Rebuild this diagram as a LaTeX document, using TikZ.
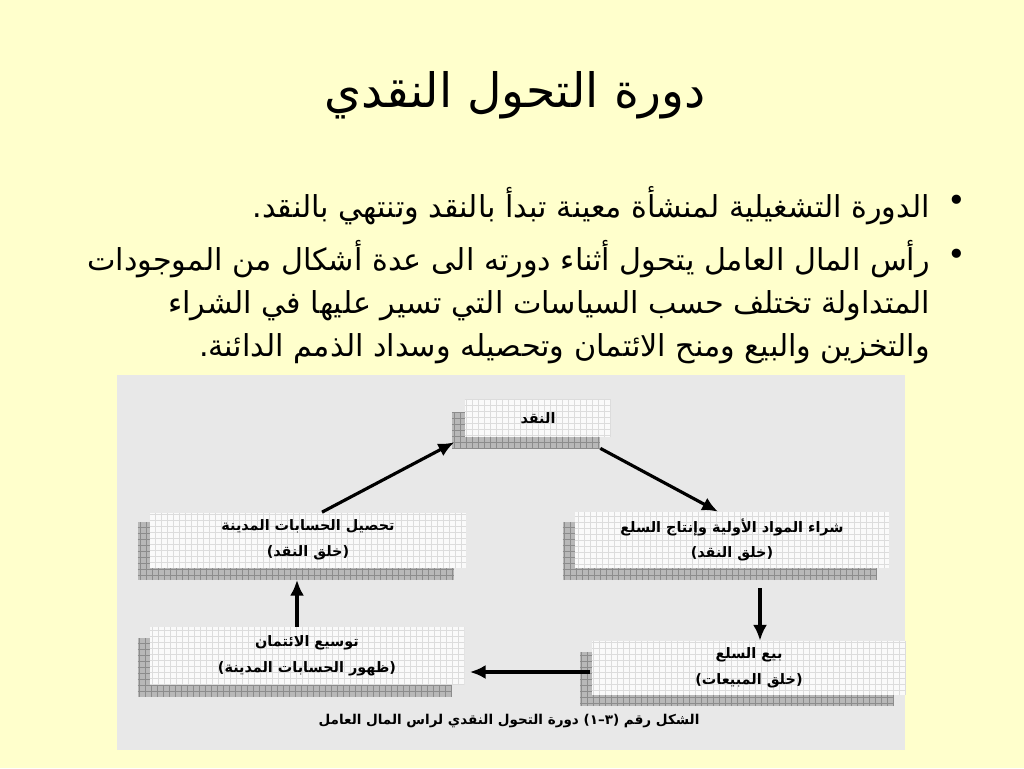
\documentclass[tikz,border=0pt]{standalone}
\usepackage{fontspec}
\setmainfont{DejaVu Sans}
\newfontfamily\arabicfont[Script=Arabic]{DejaVu Sans}
\TeXXeTstate=1
\usetikzlibrary{arrows.meta, positioning, calc}
\definecolor{slideyellow}{HTML}{FFFFCC}
\definecolor{panelgray}{HTML}{E8E8E8}
\definecolor{shadegray}{HTML}{B8B8B8}
\definecolor{shadeline}{HTML}{8C8C8C}
\definecolor{frontwhite}{HTML}{FAFAFA}
\definecolor{frontline}{HTML}{DCDCDC}
\newcommand{\artext}[1]{\beginR #1\endR}

\begin{document}
\begin{tikzpicture}[
    x=0.02cm, y=-0.02cm,
    gridfill/.style={path picture={\draw[#1, line width=0.3pt, step=0.12cm]
        (path picture bounding box.south west) grid (path picture bounding box.north east);}},
    shadebox/.style={fill=shadegray, gridfill=shadeline, inner sep=0pt},
    frontbox/.style={fill=frontwhite, gridfill=frontline, inner sep=0pt, align=center,
                     font=\arabicfont\bfseries\fontsize{8.2}{14.5}\selectfont},
    arr/.style={-{Latex[length=9pt, width=8pt]}, line width=1.8pt},
    bullettext/.style={anchor=north east, align=right,
                       font=\arabicfont\fontsize{17.2}{24.4}\selectfont}
  ]
    \useasboundingbox (0,0) rectangle (1024,768);
    \fill[slideyellow] (0,0) rectangle (1024,768);

    % title and bullets
    \node[font=\arabicfont\fontsize{27}{30}\selectfont] (title) at (515,95)
      {\artext{دورة التحول النقدي}};
    \node (dot1) at (957,203) {\fontsize{18}{18}\selectfont •};
    \node (dot2) at (957,257) {\fontsize{18}{18}\selectfont •};
    \node[bullettext] (line1) at (936,180)
      {\artext{الدورة التشغيلية لمنشأة معينة تبدأ بالنقد وتنتهي بالنقد.}};
    \node[bullettext] (line2) at (936,234)
      {\artext{رأس المال العامل يتحول أثناء دورته الى عدة أشكال من الموجودات}\\
       \artext{المتداولة تختلف حسب السياسات التي تسير عليها في الشراء}\\
       \artext{والتخزين والبيع ومنح الائتمان وتحصيله وسداد الذمم الدائنة.}};

    % figure panel
    \node[fill=panelgray, minimum width=15.78cm, minimum height=7.5cm, inner sep=0pt]
      (panel) at (511,562.5) {};

    % boxes: shadow first, then the front face
    \node[shadebox, minimum width=2.96cm, minimum height=0.72cm] (cash-s) at (526,430) {};
    \node[frontbox, minimum width=2.94cm, minimum height=0.76cm] (cash) at (538,418)
      {\artext{النقد}};

    \node[shadebox, minimum width=6.34cm, minimum height=1.16cm] (collect-s) at (296,551) {};
    \node[frontbox, minimum width=6.34cm, minimum height=1.1cm] (collect) at (308,540)
      {\artext{تحصيل الحسابات المدينة}\\\artext{(خلق النقد)}};

    \node[shadebox, minimum width=6.3cm, minimum height=1.16cm] (purchase-s) at (720,551) {};
    \node[frontbox, minimum width=6.3cm, minimum height=1.12cm] (purchase) at (732,540)
      {\artext{شراء المواد الأولية وإنتاج السلع}\\\artext{(خلق النقد)}};

    \node[shadebox, minimum width=6.3cm, minimum height=1.18cm] (credit-s) at (295,667) {};
    \node[frontbox, minimum width=6.3cm, minimum height=1.16cm] (credit) at (307,656)
      {\artext{توسيع الائتمان}\\\artext{(ظهور الحسابات المدينة)}};

    \node[shadebox, minimum width=6.28cm, minimum height=1.08cm] (sales-s) at (737,679) {};
    \node[frontbox, minimum width=6.28cm, minimum height=1.08cm] (sales) at (749,668)
      {\artext{بيع السلع}\\\artext{(خلق المبيعات)}};

    \node[font=\arabicfont\bfseries\fontsize{7.7}{12}\selectfont] (caption) at (509,721)
      {\artext{الشكل رقم (٣–١) دورة التحول النقدي لراس المال العامل}};

    % the cycle
    \draw[arr] ($(collect.north)+(14,0)$) -- ($(cash.south west)+(-10,5)$);
    \draw[arr] (cash-s.south east) -- ($(purchase.north)+(-14,0)$);
    \draw[arr] ($(purchase.south)+(28,20)$) -- ($(sales.north)+(11,0)$);
    \draw[arr] ($(sales.west)+(-2,4)$) -- ($(credit.east)+(5,16)$);
    \draw[arr] ($(credit.north)+(-10,0)$) -- ($(collect.south)+(-11,12)$);
  \end{tikzpicture}
\end{document}
